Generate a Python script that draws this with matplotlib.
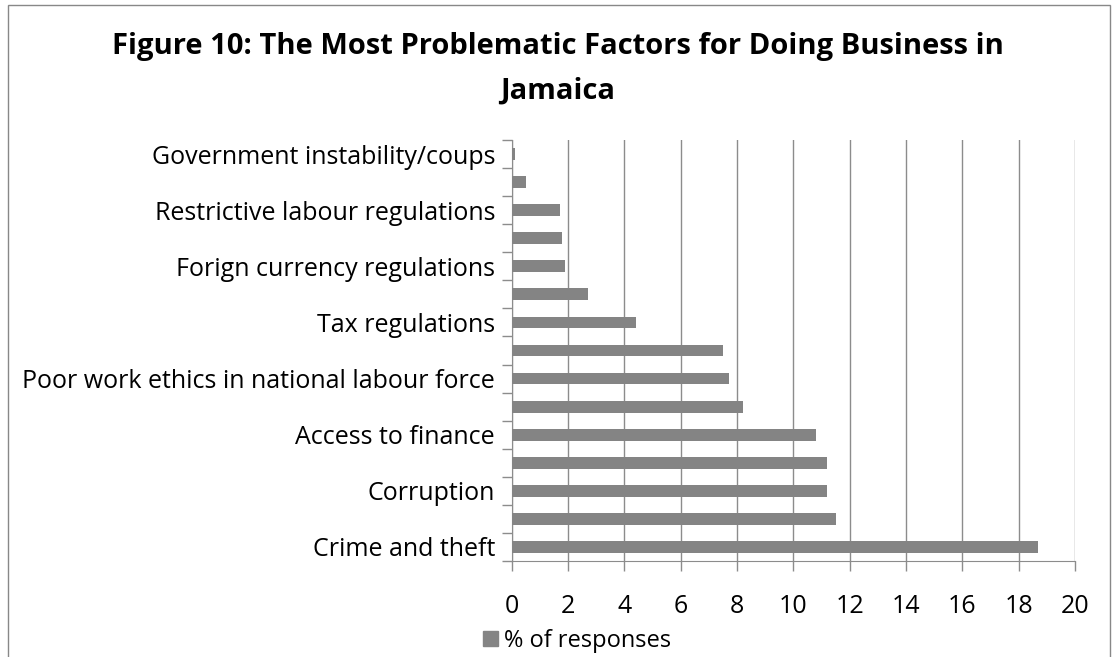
import matplotlib
matplotlib.use("Agg")
import matplotlib.pyplot as plt
from matplotlib.patches import Rectangle, Patch
import numpy as np

plt.rcParams['font.family'] = ['Open Sans', 'DejaVu Sans']

categories = ["Government instability/coups", "", "Restrictive labour regulations", "",
              "Forign currency regulations", "", "Tax regulations", "",
              "Poor work ethics in national labour force", "", "Access to finance", "",
              "Corruption", "", "Crime and theft"]
values = [0.1, 0.5, 1.7, 1.8, 1.9, 2.7, 4.4, 7.5, 7.7, 8.2, 10.8, 11.2, 11.2, 11.5, 18.7]
xticks = [0, 2, 4, 6, 8, 10, 12, 14, 16, 18, 20]
series_name = "% of responses"
title = "Figure 10: The Most Problematic Factors for Doing Business in\nJamaica"

W, H = 1117, 657
fig = plt.figure(figsize=(W / 100, H / 100), dpi=100)

# outer chart border
fig.patches.append(Rectangle((8 / W, -0.1), (1110 - 8) / W, (H - 5) / H + 0.1,
                             transform=fig.transFigure, fill=False,
                             edgecolor='#888888', linewidth=1))

left, right, top, bottom = 511.7, 1075, 140, 561
ax = fig.add_axes([left / W, 1 - bottom / H, (right - left) / W, (bottom - top) / H])

n = len(categories)
y = np.arange(n)[::-1]
ax.barh(y, values, height=0.42, color='#848484', zorder=3)
ax.set_ylim(-0.5, n - 0.5)
ax.set_xlim(0, 20)

ax.set_xticks(xticks)
ax.set_xticklabels([str(t) for t in xticks], fontsize=18)
ax.xaxis.grid(True, color='#8c8c8c', linewidth=1, zorder=0)
ax.tick_params(axis='x', length=7, width=1, color='#8c8c8c', pad=17)

ax.set_yticks(y)
ax.set_yticklabels(categories, fontsize=18)
ax.tick_params(axis='y', which='major', length=0, pad=12)
ax.set_yticks(np.arange(n + 1) - 0.5, minor=True)
ax.tick_params(axis='y', which='minor', length=7, width=1, color='#8c8c8c')

for s in ['top', 'right']:
    ax.spines[s].set_visible(False)
ax.spines['left'].set_color('#8c8c8c')
ax.spines['bottom'].set_color('#8c8c8c')

fig.text(558 / W, 1 - 69 / H, title, ha='center', va='center', fontsize=21,
         fontweight='bold', linespacing=1.7)

fig.legend(handles=[Patch(color='#848484', label=series_name)], loc='center left',
           bbox_to_anchor=(474 / W, 1 - 641 / H), frameon=False, fontsize=17,
           handlelength=0.6, handleheight=0.6, handletextpad=0.25, borderaxespad=0)

fig.savefig("out.png", dpi=100)
